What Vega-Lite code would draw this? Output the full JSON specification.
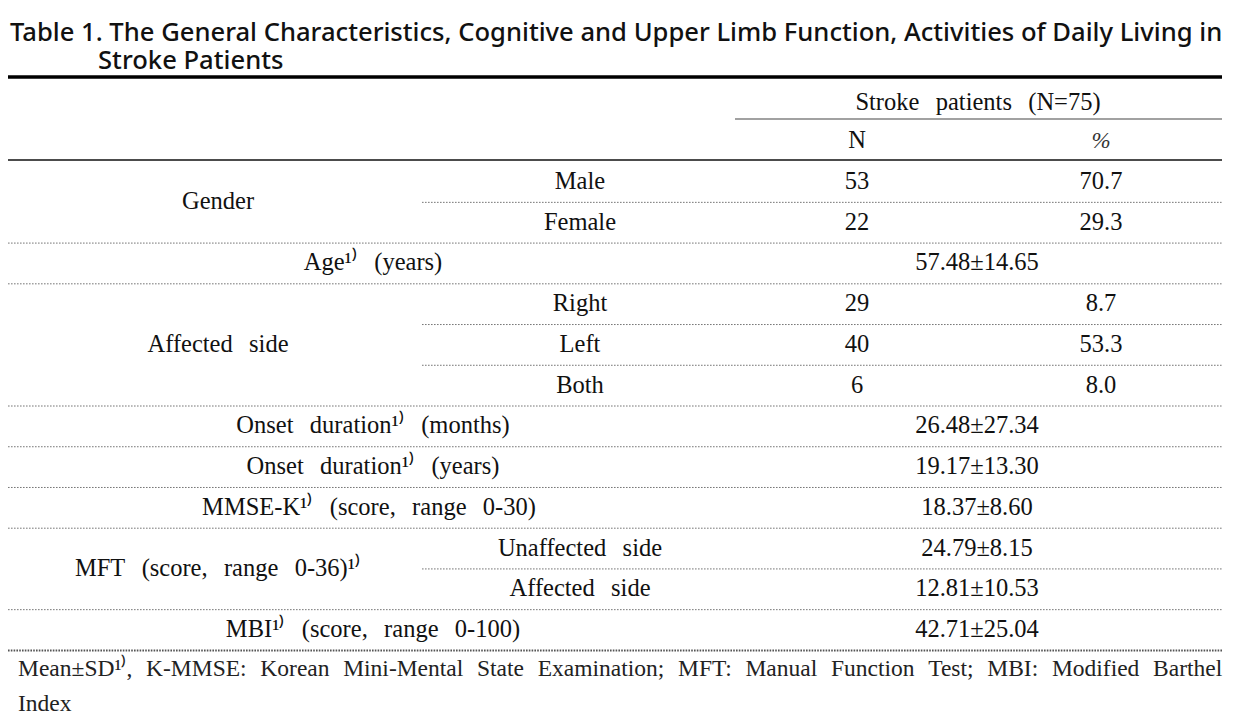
{
  "$schema": "https://vega.github.io/schema/vega-lite/v6.json",
  "width": 1241,
  "height": 722,
  "autosize": {"type": "fit", "contains": "padding"},
  "padding": 0,
  "background": "white",
  "config": {"view": {"stroke": null}},
  "datasets": {
    "cells": [
      {"kind": "title", "x": 10, "r": -2.66, "text": "Table 1. The General Characteristics, Cognitive and Upper Limb Function, Activities of Daily Living in"},
      {"kind": "title", "x": 98, "r": -1.975, "text": "Stroke Patients"},
      {"kind": "body", "x": 978, "r": -0.95, "text": "Stroke\u2002\u2006patients\u2002\u2006(N=75)"},
      {"kind": "body", "x": 857, "r": 0, "text": "N"},
      {"kind": "pct", "x": 1101, "r": 0, "text": "%"},
      {"kind": "body", "x": 218, "r": 1.5, "text": "Gender"},
      {"kind": "body", "x": 580, "r": 1, "text": "Male"},
      {"kind": "body", "x": 857, "r": 1, "text": "53"},
      {"kind": "body", "x": 1101, "r": 1, "text": "70.7"},
      {"kind": "body", "x": 580, "r": 2, "text": "Female"},
      {"kind": "body", "x": 857, "r": 2, "text": "22"},
      {"kind": "body", "x": 1101, "r": 2, "text": "29.3"},
      {"kind": "body", "x": 373, "r": 3, "text": "Age¹⁾\u2002\u2006(years)"},
      {"kind": "body", "x": 977, "r": 3, "text": "57.48±14.65"},
      {"kind": "body", "x": 218, "r": 5, "text": "Affected\u2002\u2006side"},
      {"kind": "body", "x": 580, "r": 4, "text": "Right"},
      {"kind": "body", "x": 857, "r": 4, "text": "29"},
      {"kind": "body", "x": 1101, "r": 4, "text": "8.7"},
      {"kind": "body", "x": 580, "r": 5, "text": "Left"},
      {"kind": "body", "x": 857, "r": 5, "text": "40"},
      {"kind": "body", "x": 1101, "r": 5, "text": "53.3"},
      {"kind": "body", "x": 580, "r": 6, "text": "Both"},
      {"kind": "body", "x": 857, "r": 6, "text": "6"},
      {"kind": "body", "x": 1101, "r": 6, "text": "8.0"},
      {"kind": "body", "x": 373, "r": 7, "text": "Onset\u2002\u2006duration¹⁾\u2002\u2006(months)"},
      {"kind": "body", "x": 977, "r": 7, "text": "26.48±27.34"},
      {"kind": "body", "x": 373, "r": 8, "text": "Onset\u2002\u2006duration¹⁾\u2002\u2006(years)"},
      {"kind": "body", "x": 977, "r": 8, "text": "19.17±13.30"},
      {"kind": "body", "x": 369, "r": 9, "text": "MMSE-K¹⁾\u2002\u2006(score,\u2002\u2006range\u2002\u20060-30)"},
      {"kind": "body", "x": 977, "r": 9, "text": "18.37±8.60"},
      {"kind": "body", "x": 218, "r": 10.5, "text": "MFT\u2002\u2006(score,\u2002\u2006range\u2002\u20060-36)¹⁾"},
      {"kind": "body", "x": 580, "r": 10, "text": "Unaffected\u2002\u2006side"},
      {"kind": "body", "x": 977, "r": 10, "text": "24.79±8.15"},
      {"kind": "body", "x": 580, "r": 11, "text": "Affected\u2002\u2006side"},
      {"kind": "body", "x": 977, "r": 11, "text": "12.81±10.53"},
      {"kind": "body", "x": 373, "r": 12, "text": "MBI¹⁾\u2002\u2006(score,\u2002\u2006range\u2002\u20060-100)"},
      {"kind": "body", "x": 977, "r": 12, "text": "42.71±25.04"},
      {"kind": "foot", "x": 18, "r": 12.957, "text": "Mean±SD¹⁾,\u2002\u200aK-MMSE:\u2002\u200aKorean\u2002\u200aMini-Mental\u2002\u200aState\u2002\u200aExamination;\u2002\u200aMFT:\u2002\u200aManual\u2002\u200aFunction\u2002\u200aTest;\u2002\u200aMBI:\u2002\u200aModified\u2002\u200aBarthel"},
      {"kind": "foot", "x": 18, "r": 13.816, "text": "Index"}
    ],
    "rules": [
      {"kind": "thick", "r": -1.58, "x1": 8, "x2": 1222},
      {"kind": "thin", "r": -0.547, "x1": 735, "x2": 1222},
      {"kind": "solid", "r": 0.46, "x1": 8, "x2": 1222},
      {"kind": "dot", "r": 1.5, "x1": 422, "x2": 1222},
      {"kind": "dot", "r": 2.5, "x1": 8, "x2": 1222},
      {"kind": "dot", "r": 3.5, "x1": 8, "x2": 1222},
      {"kind": "dot", "r": 4.5, "x1": 422, "x2": 1222},
      {"kind": "dot", "r": 5.5, "x1": 422, "x2": 1222},
      {"kind": "dot", "r": 6.5, "x1": 8, "x2": 1222},
      {"kind": "dot", "r": 7.5, "x1": 8, "x2": 1222},
      {"kind": "dot", "r": 8.5, "x1": 8, "x2": 1222},
      {"kind": "dot", "r": 9.5, "x1": 8, "x2": 1222},
      {"kind": "dot", "r": 10.5, "x1": 422, "x2": 1222},
      {"kind": "dot", "r": 11.5, "x1": 8, "x2": 1222},
      {"kind": "dotbold", "r": 12.5, "x1": 8, "x2": 1222}
    ]
  },
  "layer": [
    {
      "data": {"name": "rules"},
      "transform": [{"filter": "datum.kind === 'thick'"}],
      "mark": {"type": "rule", "strokeWidth": 3.5, "color": "#000000"},
      "encoding": {
        "x": {"field": "x1", "type": "quantitative", "scale": {"domain": [0, 1241], "nice": false, "zero": false}, "axis": null},
        "x2": {"field": "x2"},
        "y": {"field": "r", "type": "quantitative", "scale": {"domain": [-3.468, 14.258], "nice": false, "zero": false, "reverse": true}, "axis": null}
      }
    },
    {
      "data": {"name": "rules"},
      "transform": [{"filter": "datum.kind === 'thin'"}],
      "mark": {"type": "rule", "strokeWidth": 1.2, "color": "#444444"},
      "encoding": {
        "x": {"field": "x1", "type": "quantitative", "axis": null},
        "x2": {"field": "x2"},
        "y": {"field": "r", "type": "quantitative", "axis": null}
      }
    },
    {
      "data": {"name": "rules"},
      "transform": [{"filter": "datum.kind === 'solid'"}],
      "mark": {"type": "rule", "strokeWidth": 1.6, "color": "#111111"},
      "encoding": {
        "x": {"field": "x1", "type": "quantitative", "axis": null},
        "x2": {"field": "x2"},
        "y": {"field": "r", "type": "quantitative", "axis": null}
      }
    },
    {
      "data": {"name": "rules"},
      "transform": [{"filter": "datum.kind === 'dot'"}],
      "mark": {"type": "rule", "strokeWidth": 1, "color": "#777777", "strokeDash": [1.6, 1.4]},
      "encoding": {
        "x": {"field": "x1", "type": "quantitative", "axis": null},
        "x2": {"field": "x2"},
        "y": {"field": "r", "type": "quantitative", "axis": null}
      }
    },
    {
      "data": {"name": "rules"},
      "transform": [{"filter": "datum.kind === 'dotbold'"}],
      "mark": {"type": "rule", "strokeWidth": 2, "color": "#555555", "strokeDash": [1.6, 1.2]},
      "encoding": {
        "x": {"field": "x1", "type": "quantitative", "axis": null},
        "x2": {"field": "x2"},
        "y": {"field": "r", "type": "quantitative", "axis": null}
      }
    },
    {
      "data": {"name": "cells"},
      "transform": [{"filter": "datum.kind === 'title'"}],
      "mark": {"type": "text", "align": "left", "baseline": "middle", "font": "Noto Sans", "fontSize": 25.6, "fontWeight": 500, "color": "#111111"},
      "encoding": {
        "x": {"field": "x", "type": "quantitative", "axis": null},
        "y": {"field": "r", "type": "quantitative", "axis": null},
        "text": {"field": "text"}
      }
    },
    {
      "data": {"name": "cells"},
      "transform": [{"filter": "datum.kind === 'body'"}],
      "mark": {"type": "text", "align": "center", "baseline": "middle", "font": "Liberation Serif", "fontSize": 24.5, "color": "#111111"},
      "encoding": {
        "x": {"field": "x", "type": "quantitative", "axis": null},
        "y": {"field": "r", "type": "quantitative", "axis": null},
        "text": {"field": "text"}
      }
    },
    {
      "data": {"name": "cells"},
      "transform": [{"filter": "datum.kind === 'pct'"}],
      "mark": {"type": "text", "align": "center", "baseline": "middle", "font": "Liberation Serif", "fontStyle": "italic", "fontSize": 23, "color": "#333333"},
      "encoding": {
        "x": {"field": "x", "type": "quantitative", "axis": null},
        "y": {"field": "r", "type": "quantitative", "axis": null},
        "text": {"field": "text"}
      }
    },
    {
      "data": {"name": "cells"},
      "transform": [{"filter": "datum.kind === 'foot'"}],
      "mark": {"type": "text", "align": "left", "baseline": "middle", "font": "Liberation Serif", "fontSize": 23.5, "color": "#222222"},
      "encoding": {
        "x": {"field": "x", "type": "quantitative", "axis": null},
        "y": {"field": "r", "type": "quantitative", "axis": null},
        "text": {"field": "text"}
      }
    }
  ]
}
